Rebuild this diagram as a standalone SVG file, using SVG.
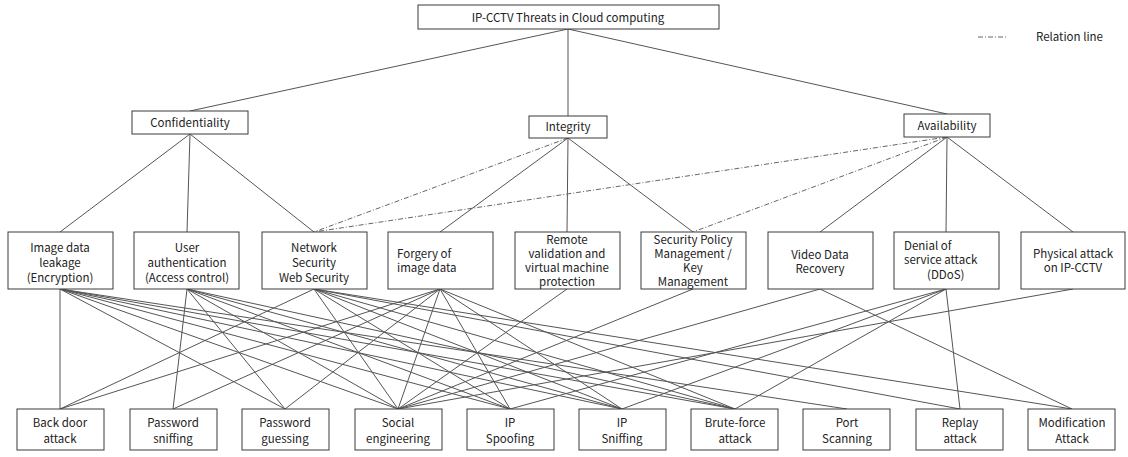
<svg xmlns="http://www.w3.org/2000/svg" width="1128" height="457" viewBox="0 0 1128 457">
<style>
.box{fill:#fff;stroke:#3a3a3a;stroke-width:1}
.t{font-family:"Noto Sans CJK KR","Noto Sans",sans-serif;font-size:11.5px;fill:#222;text-anchor:middle}
.l{text-anchor:start}
.c{stroke:#555;stroke-width:1;fill:none}
.d{stroke:#666;stroke-width:1;fill:none;stroke-dasharray:5,2,1,2}
</style>
<rect width="1128" height="457" fill="#fff"/>
<g id="connectors">
<line class="c" x1="568" y1="29" x2="190" y2="111"/>
<line class="c" x1="568" y1="29" x2="568" y2="116"/>
<line class="c" x1="568" y1="29" x2="947" y2="114"/>
<line class="c" x1="190" y1="134" x2="60" y2="232"/>
<line class="c" x1="190" y1="134" x2="187" y2="232"/>
<line class="c" x1="190" y1="134" x2="314" y2="232"/>
<line class="c" x1="568" y1="138" x2="440" y2="232"/>
<line class="c" x1="568" y1="138" x2="567" y2="232"/>
<line class="c" x1="568" y1="138" x2="693" y2="232"/>
<line class="c" x1="947" y1="137" x2="820" y2="232"/>
<line class="c" x1="947" y1="137" x2="946" y2="232"/>
<line class="c" x1="947" y1="137" x2="1073" y2="232"/>
<line class="d" x1="568" y1="138" x2="314" y2="232"/>
<line class="d" x1="947" y1="137" x2="314" y2="232"/>
<line class="d" x1="947" y1="137" x2="693" y2="232"/>
<line class="d" x1="978" y1="37" x2="1008" y2="37"/>
<line class="c" x1="60" y1="289" x2="60" y2="409"/>
<line class="c" x1="60" y1="289" x2="285" y2="409"/>
<line class="c" x1="60" y1="289" x2="398" y2="409"/>
<line class="c" x1="60" y1="289" x2="510" y2="409"/>
<line class="c" x1="60" y1="289" x2="622" y2="409"/>
<line class="c" x1="60" y1="289" x2="735" y2="409"/>
<line class="c" x1="60" y1="289" x2="847" y2="409"/>
<line class="c" x1="187" y1="289" x2="173" y2="409"/>
<line class="c" x1="187" y1="289" x2="285" y2="409"/>
<line class="c" x1="187" y1="289" x2="398" y2="409"/>
<line class="c" x1="187" y1="289" x2="510" y2="409"/>
<line class="c" x1="187" y1="289" x2="622" y2="409"/>
<line class="c" x1="187" y1="289" x2="735" y2="409"/>
<line class="c" x1="314" y1="289" x2="60" y2="409"/>
<line class="c" x1="314" y1="289" x2="398" y2="409"/>
<line class="c" x1="314" y1="289" x2="510" y2="409"/>
<line class="c" x1="314" y1="289" x2="622" y2="409"/>
<line class="c" x1="314" y1="289" x2="735" y2="409"/>
<line class="c" x1="314" y1="289" x2="960" y2="409"/>
<line class="c" x1="314" y1="289" x2="1072" y2="409"/>
<line class="c" x1="440" y1="289" x2="60" y2="409"/>
<line class="c" x1="440" y1="289" x2="173" y2="409"/>
<line class="c" x1="440" y1="289" x2="285" y2="409"/>
<line class="c" x1="440" y1="289" x2="398" y2="409"/>
<line class="c" x1="440" y1="289" x2="510" y2="409"/>
<line class="c" x1="440" y1="289" x2="622" y2="409"/>
<line class="c" x1="440" y1="289" x2="735" y2="409"/>
<line class="c" x1="567" y1="289" x2="398" y2="409"/>
<line class="c" x1="693" y1="289" x2="398" y2="409"/>
<line class="c" x1="820" y1="289" x2="398" y2="409"/>
<line class="c" x1="820" y1="289" x2="1072" y2="409"/>
<line class="c" x1="946" y1="289" x2="510" y2="409"/>
<line class="c" x1="946" y1="289" x2="622" y2="409"/>
<line class="c" x1="946" y1="289" x2="735" y2="409"/>
<line class="c" x1="946" y1="289" x2="960" y2="409"/>
<line class="c" x1="1073" y1="289" x2="398" y2="409"/>
</g>
<g id="root"><rect class="box" x="418" y="5" width="301" height="24"/><text class="t" x="568" y="22">IP-CCTV Threats in Cloud computing</text></g>
<g id="legend"><text class="t l" x="1036" y="41">Relation line</text></g>
<g id="confidentiality"><rect class="box" x="132" y="111" width="116" height="23"/><text class="t" x="190" y="127">Confidentiality</text></g>
<g id="integrity"><rect class="box" x="529" y="116" width="78" height="22"/><text class="t" x="568" y="131">Integrity</text></g>
<g id="availability"><rect class="box" x="904" y="114" width="86" height="23"/><text class="t" x="947" y="130">Availability</text></g>
<g id="m1"><rect class="box" x="8" y="232" width="105" height="57"/><text class="t" x="60" y="252">Image data</text><text class="t" x="60" y="267">leakage</text><text class="t" x="60" y="282">(Encryption)</text></g>
<g id="m2"><rect class="box" x="134" y="232" width="105" height="57"/><text class="t" x="187" y="252">User</text><text class="t" x="187" y="267">authentication</text><text class="t" x="187" y="282">(Access control)</text></g>
<g id="m3"><rect class="box" x="262" y="232" width="105" height="57"/><text class="t" x="314" y="252">Network</text><text class="t" x="314" y="267">Security</text><text class="t" x="314" y="282">Web Security</text></g>
<g id="m4"><rect class="box" x="388" y="232" width="105" height="57"/><text class="t l" x="397" y="258">Forgery of</text><text class="t l" x="397" y="272">image data</text></g>
<g id="m5"><rect class="box" x="515" y="232" width="105" height="57"/><text class="t" x="567" y="244">Remote</text><text class="t" x="567" y="258">validation and</text><text class="t" x="567" y="272">virtual machine</text><text class="t" x="567" y="286">protection</text></g>
<g id="m6"><rect class="box" x="641" y="232" width="105" height="57"/><text class="t" x="693" y="244">Security Policy</text><text class="t" x="693" y="258">Management /</text><text class="t" x="693" y="272">Key</text><text class="t" x="693" y="286">Management</text></g>
<g id="m7"><rect class="box" x="768" y="232" width="105" height="57"/><text class="t" x="820" y="259">Video Data</text><text class="t" x="820" y="273">Recovery</text></g>
<g id="m8"><rect class="box" x="894" y="232" width="105" height="57"/><text class="t l" x="904" y="250">Denial of</text><text class="t l" x="904" y="264">service attack</text><text class="t l" x="927" y="279">(DDoS)</text></g>
<g id="m9"><rect class="box" x="1021" y="232" width="104" height="57"/><text class="t" x="1073" y="258">Physical attack</text><text class="t" x="1073" y="272">on IP-CCTV</text></g>
<g id="b1"><rect class="box" x="17" y="409" width="87" height="41"/><text class="t" x="60" y="427">Back door</text><text class="t" x="60" y="443">attack</text></g>
<g id="b2"><rect class="box" x="130" y="409" width="87" height="41"/><text class="t" x="173" y="427">Password</text><text class="t" x="173" y="443">sniffing</text></g>
<g id="b3"><rect class="box" x="242" y="409" width="87" height="41"/><text class="t" x="285" y="427">Password</text><text class="t" x="285" y="443">guessing</text></g>
<g id="b4"><rect class="box" x="355" y="409" width="87" height="41"/><text class="t" x="398" y="427">Social</text><text class="t" x="398" y="443">engineering</text></g>
<g id="b5"><rect class="box" x="467" y="409" width="87" height="41"/><text class="t" x="510" y="427">IP</text><text class="t" x="510" y="443">Spoofing</text></g>
<g id="b6"><rect class="box" x="579" y="409" width="87" height="41"/><text class="t" x="622" y="427">IP</text><text class="t" x="622" y="443">Sniffing</text></g>
<g id="b7"><rect class="box" x="691" y="409" width="87" height="41"/><text class="t" x="735" y="427">Brute-force</text><text class="t" x="735" y="443">attack</text></g>
<g id="b8"><rect class="box" x="803" y="409" width="87" height="41"/><text class="t" x="847" y="427">Port</text><text class="t" x="847" y="443">Scanning</text></g>
<g id="b9"><rect class="box" x="916" y="409" width="87" height="41"/><text class="t" x="960" y="427">Replay</text><text class="t" x="960" y="443">attack</text></g>
<g id="b10"><rect class="box" x="1028" y="409" width="87" height="41"/><text class="t" x="1072" y="427">Modification</text><text class="t" x="1072" y="443">Attack</text></g>
</svg>
